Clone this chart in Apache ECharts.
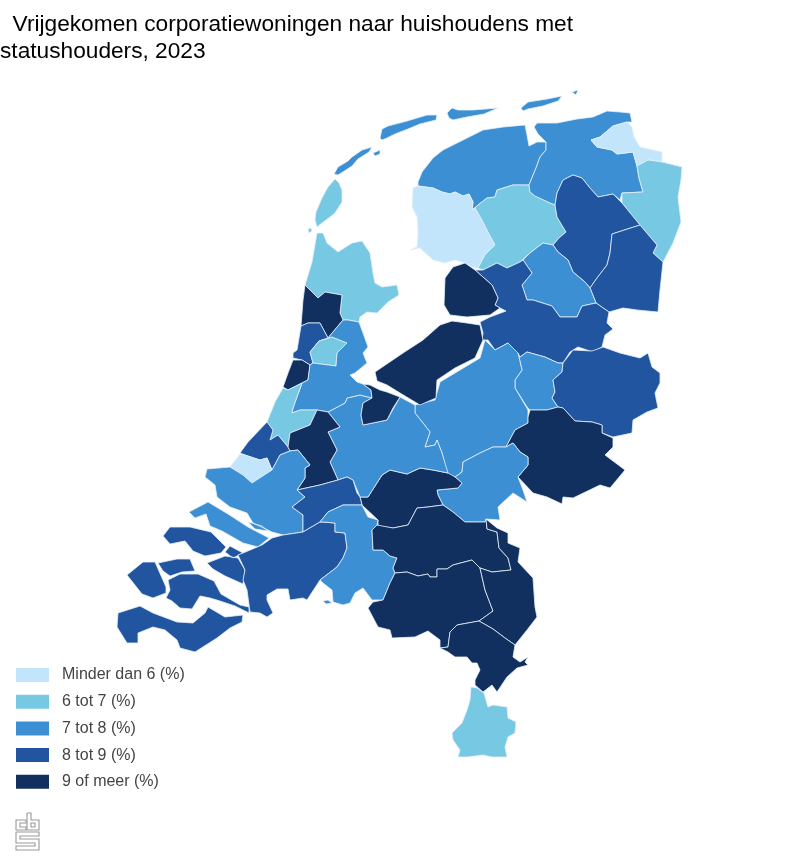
<!DOCTYPE html>
<html>
<head>
<meta charset="utf-8">
<style>html,body{margin:0;padding:0;background:#fff}#chart{width:800px;height:867px}</style>
<script src="https://cdn.jsdelivr.net/npm/echarts@6/dist/echarts.min.js"></script>
</head>
<body>
<div id="chart"></div>
<script>
var regionNames = ['Noord-Friesland', 'Zuidwest-Friesland', 'Zuidoost-Friesland', 'Overig Groningen', 'Delfzijl', 'Oost-Groningen',
    'Noord-Drenthe', 'Zuidoost-Drenthe', 'Zuidwest-Drenthe', 'Noord-Overijssel', 'Zuidwest-Overijssel', 'Twente', 'Veluwe', 'Achterhoek',
    'Arnhem/Nijmegen', 'Zuidwest-Gelderland', 'Utrecht', 'Kop van Noord-Holland', 'Alkmaar', 'IJmond', 'Haarlem', 'Zaanstreek', 'Groot-Amsterdam', 'Het Gooi',
    'Leiden', 'Den Haag', 'Delft', 'Oost-Zuid-Holland', 'Groot-Rijnmond', 'Zuidoost-Zuid-Holland', 'Zeeuwsch-Vlaanderen', 'Overig Zeeland',
    'West-Noord-Brabant', 'Midden-Noord-Brabant', 'Noordoost-Noord-Brabant', 'Zuidoost-Noord-Brabant', 'Noord-Limburg', 'Midden-Limburg', 'Zuid-Limburg', 'Flevoland'];
var regionValues = [7.5, 5.5, 6.5, 7.5, 5.5, 6.5,
    8.5, 8.5, 7.5, 8.5, 7.5, 8.5, 7.5, 9.5,
    7.5, 9.5, 7.5, 6.5, 9.5, 8.5, 9.5, 6.5, 7.5, 9.5,
    6.5, 8.5, 5.5, 9.5, 7.5, 8.5, 8.5, 8.5,
    8.5, 7.5, 9.5, 9.5, 9.5, 9.5, 6.5, 9.5];
var classLabels = ['Minder dan 6 (%)', '6 tot 7 (%)', '7 tot 8 (%)', '8 tot 9 (%)', '9 of meer (%)'];
var classColors = ['#c3e5fc', '#76c8e3', '#3d8fd3', '#2155a0', '#12305f'];

// contouren van de regio's (kaartgeometrie, in beeldpunten)
var regionOutlines = {
    'Noord-Friesland': [
        [[418,182],[422,172],[433,158],[443,150],[463,140],[483,130],[503,127],[525,125],[527,135],[529,146],[537,142],[546,142],[546,150],[540,157],[536,168],[529,185],[513,185],[497,190],[495,197],[487,198],[478,205],[472,210],[473,202],[469,194],[463,196],[455,192],[450,194],[442,192],[433,188],[418,186]],
        [[334,174],[338,167],[348,161],[352,157],[362,150],[372,147],[369,152],[358,159],[352,166],[346,170],[338,175]],
        [[373,153],[380,150],[380,154],[375,156]],
        [[380,138],[382,129],[388,126],[407,121],[427,115],[437,115],[436,120],[420,124],[408,129],[395,134],[387,138],[382,140]],
        [[447,113],[452,108],[458,110],[473,110],[498,108],[484,114],[467,117],[453,120],[449,118]],
        [[521,108],[528,102],[547,99],[562,96],[558,101],[543,106],[528,109],[523,111]]
    ],
    'Zuidwest-Friesland': [
        [[418,186],[433,188],[442,192],[450,194],[455,192],[463,196],[469,194],[473,202],[472,210],[475,208],[482,220],[488,232],[495,245],[485,255],[478,268],[472,267],[465,263],[455,260],[445,263],[433,260],[420,248],[410,250],[417,247],[418,233],[417,217],[412,207],[413,188]]
    ],
    'Zuidoost-Friesland': [
        [[529,185],[530,192],[535,196],[548,202],[555,205],[557,217],[566,232],[559,238],[553,245],[543,243],[530,253],[520,262],[507,268],[497,263],[483,270],[478,268],[485,255],[495,245],[488,232],[482,220],[475,208],[478,205],[487,198],[495,197],[497,190],[513,185]]
    ],
    'Overig Groningen': [
        [[537,123],[547,123],[557,123],[577,119],[593,117],[607,111],[620,112],[630,113],[632,122],[627,122],[613,126],[600,137],[591,140],[597,147],[612,150],[617,154],[633,152],[637,166],[639,178],[643,192],[622,193],[620,200],[613,194],[598,197],[590,188],[582,178],[573,175],[563,180],[557,193],[555,205],[548,202],[535,196],[530,192],[529,185],[536,168],[540,157],[546,150],[546,142],[538,134],[534,127]],
        [[572,92],[578,90],[576,95]]
    ],
    'Delfzijl': [
        [[627,122],[632,127],[634,137],[640,147],[662,152],[662,162],[648,160],[637,166],[633,152],[617,154],[612,150],[597,147],[591,140],[600,137],[613,126]]
    ],
    'Oost-Groningen': [
        [[637,166],[648,160],[662,162],[682,167],[681,180],[678,197],[681,222],[673,243],[663,262],[653,253],[657,245],[640,225],[622,203],[622,193],[643,192],[639,178]]
    ],
    'Noord-Drenthe': [
        [[555,205],[557,193],[563,180],[573,175],[582,178],[590,188],[598,197],[613,194],[622,203],[640,225],[612,234],[610,253],[607,265],[597,278],[590,288],[585,282],[573,272],[568,260],[558,252],[553,245],[559,238],[566,232],[557,217]]
    ],
    'Zuidoost-Drenthe': [
        [[640,225],[657,245],[653,253],[663,262],[660,290],[658,312],[637,310],[623,308],[609,312],[596,303],[590,288],[597,278],[607,265],[610,253],[612,234]]
    ],
    'Zuidwest-Drenthe': [
        [[543,243],[553,245],[558,252],[568,260],[573,272],[585,282],[590,288],[596,303],[582,306],[577,317],[560,317],[552,306],[533,300],[527,300],[522,285],[532,273],[523,260],[530,253]]
    ],
    'Noord-Overijssel': [
        [[475,270],[483,270],[497,263],[507,268],[520,262],[523,260],[532,273],[522,285],[527,300],[533,300],[552,306],[560,317],[577,317],[582,306],[596,303],[609,312],[607,323],[613,329],[605,335],[602,347],[593,352],[578,347],[570,352],[563,363],[558,363],[545,357],[527,352],[520,357],[508,343],[495,350],[488,340],[482,340],[483,333],[480,322],[490,317],[506,311],[500,308],[495,305],[498,298],[492,285]]
    ],
    'Zuidwest-Overijssel': [
        [[520,357],[527,352],[545,357],[558,363],[563,363],[562,372],[553,380],[555,392],[552,398],[558,407],[547,410],[530,410],[527,407],[515,388],[515,380],[522,370],[518,353]]
    ],
    'Twente': [
        [[563,363],[573,350],[592,351],[603,347],[620,353],[640,358],[648,353],[652,367],[660,373],[660,383],[655,393],[658,408],[647,412],[633,420],[632,433],[613,437],[602,433],[602,425],[592,422],[575,421],[563,408],[558,407],[552,398],[555,392],[553,380],[562,372]]
    ],
    'Veluwe': [
        [[415,405],[435,400],[440,382],[460,370],[480,358],[485,340],[495,350],[508,343],[518,353],[522,370],[515,380],[515,388],[528,410],[528,423],[515,430],[506,447],[493,447],[480,453],[463,462],[462,472],[455,477],[448,477],[442,453],[437,440],[435,445],[425,447],[430,432],[423,423],[415,413]]
    ],
    'Achterhoek': [
        [[530,410],[547,410],[558,407],[563,408],[575,421],[592,422],[602,425],[602,433],[613,438],[613,447],[605,455],[625,470],[610,488],[600,485],[573,498],[563,497],[562,504],[547,497],[533,493],[518,477],[528,465],[528,457],[520,452],[513,443],[506,447],[515,430],[528,423],[528,417]]
    ],
    'Arnhem/Nijmegen': [
        [[437,490],[458,488],[462,483],[455,477],[462,472],[463,462],[480,453],[493,447],[506,447],[513,443],[520,452],[528,457],[528,465],[518,477],[523,490],[527,502],[513,493],[498,507],[500,520],[486,519],[485,522],[465,522],[453,512],[443,505],[438,495]]
    ],
    'Zuidwest-Gelderland': [
        [[360,497],[368,497],[382,475],[390,470],[407,474],[420,468],[433,470],[448,473],[455,477],[462,483],[458,488],[437,490],[438,495],[443,505],[428,507],[417,508],[408,525],[393,528],[378,526],[378,520],[362,505]]
    ],
    'Utrecht': [
        [[328,412],[345,403],[347,398],[360,395],[368,397],[372,398],[363,403],[361,415],[363,425],[387,420],[400,397],[415,405],[415,413],[423,423],[430,432],[425,447],[435,445],[437,440],[442,453],[448,473],[433,470],[420,468],[407,474],[390,470],[382,475],[368,497],[360,497],[353,480],[347,477],[338,480],[330,462],[337,450],[328,432],[340,427]]
    ],
    'Kop van Noord-Holland': [
        [[317,233],[323,233],[327,243],[338,252],[352,243],[362,241],[370,253],[373,273],[375,283],[382,287],[397,285],[399,295],[388,302],[377,313],[367,312],[360,317],[359,322],[348,320],[343,320],[340,313],[342,295],[325,292],[318,298],[305,285],[312,262]],
        [[335,179],[339,183],[342,190],[342,202],[335,213],[330,217],[322,223],[317,227],[315,220],[316,212],[322,198],[328,187]],
        [[308,229],[311,228],[312,231],[309,233]]
    ],
    'Alkmaar': [
        [[305,285],[318,298],[325,292],[342,295],[340,313],[343,320],[328,338],[320,323],[308,323],[301,326],[303,300]]
    ],
    'IJmond': [
        [[301,326],[308,323],[320,323],[328,338],[319,341],[310,352],[313,363],[310,365],[302,360],[293,358],[293,353],[297,350]]
    ],
    'Haarlem': [
        [[293,360],[302,360],[310,365],[308,380],[302,383],[288,390],[283,387],[288,373]]
    ],
    'Zaanstreek': [
        [[319,341],[332,337],[347,343],[337,353],[336,366],[313,363],[310,352]]
    ],
    'Groot-Amsterdam': [
        [[343,320],[348,320],[359,322],[363,333],[368,347],[363,353],[367,363],[355,373],[350,375],[357,382],[363,384],[371,390],[372,398],[368,397],[360,395],[347,398],[345,403],[328,412],[317,410],[300,410],[292,413],[293,408],[302,383],[308,380],[310,365],[313,363],[336,366],[337,353],[347,343],[332,337],[328,338]]
    ],
    'Het Gooi': [
        [[363,384],[370,385],[380,390],[387,392],[400,397],[393,408],[387,420],[363,425],[361,415],[363,403],[372,398],[371,390]]
    ],
    'Leiden': [
        [[283,388],[288,390],[302,383],[293,408],[292,413],[300,410],[317,410],[310,425],[290,433],[288,447],[278,435],[270,440],[273,430],[267,422],[275,402]]
    ],
    'Den Haag': [
        [[267,422],[273,430],[270,440],[278,435],[288,447],[290,451],[280,455],[272,470],[267,458],[260,460],[245,455],[240,453],[248,442]]
    ],
    'Delft': [
        [[240,454],[245,455],[260,460],[267,458],[272,470],[252,483],[243,475],[230,467]]
    ],
    'Oost-Zuid-Holland': [
        [[290,433],[310,425],[317,410],[328,412],[340,427],[328,432],[337,450],[330,462],[338,480],[320,485],[297,490],[305,478],[305,468],[310,465],[298,450],[290,451],[288,447]]
    ],
    'Groot-Rijnmond': [
        [[290,451],[298,450],[310,465],[305,468],[305,478],[297,490],[305,497],[292,507],[303,515],[303,532],[283,535],[272,532],[253,523],[247,513],[230,507],[217,497],[215,485],[205,477],[207,469],[230,467],[243,475],[252,483],[272,470],[280,455]],
        [[189,512],[208,502],[228,514],[248,527],[269,538],[258,547],[243,543],[222,531],[210,526],[206,514],[195,518]],
        [[248,522],[262,526],[268,531],[255,529]]
    ],
    'Zuidoost-Zuid-Holland': [
        [[297,490],[320,485],[338,480],[347,477],[353,480],[357,493],[360,497],[362,505],[343,505],[328,512],[320,522],[303,532],[303,515],[292,507],[305,497]]
    ],
    'Zeeuwsch-Vlaanderen': [
        [[118,613],[140,606],[153,613],[177,622],[193,623],[205,613],[208,607],[225,617],[243,615],[242,622],[230,628],[217,638],[195,652],[180,648],[177,640],[165,630],[153,627],[138,633],[138,643],[127,643],[117,627]]
    ],
    'Overig Zeeland': [
        [[163,536],[170,527],[190,527],[211,532],[226,547],[221,553],[205,556],[193,551],[185,541],[170,544]],
        [[225,552],[230,546],[243,553],[233,558]],
        [[207,563],[225,556],[238,558],[245,570],[243,584],[225,576],[213,569]],
        [[158,563],[177,559],[190,559],[195,571],[182,572],[170,576],[163,571]],
        [[127,575],[143,562],[155,562],[166,587],[166,593],[153,598],[142,594]],
        [[168,580],[180,574],[198,574],[214,581],[221,594],[240,605],[249,607],[249,613],[235,606],[220,601],[210,598],[200,596],[192,609],[180,608],[172,601],[166,598],[170,590]]
    ],
    'West-Noord-Brabant': [
        [[303,532],[320,522],[323,522],[335,523],[335,532],[345,533],[347,548],[343,558],[337,567],[320,580],[307,600],[303,598],[290,600],[288,589],[277,589],[267,595],[267,600],[273,613],[267,617],[260,613],[250,612],[247,590],[243,580],[245,570],[238,555],[243,553],[262,545],[272,538],[283,535]]
    ],
    'Midden-Noord-Brabant': [
        [[320,522],[328,512],[343,505],[362,505],[368,517],[378,520],[377,525],[372,530],[373,550],[383,550],[390,556],[397,558],[393,568],[395,573],[390,583],[383,600],[372,600],[363,588],[355,593],[350,603],[343,605],[333,602],[332,590],[323,583],[320,580],[337,567],[343,558],[347,548],[345,533],[335,532],[335,523],[323,522]],
        [[323,601],[328,600],[332,603],[326,604]]
    ],
    'Noordoost-Noord-Brabant': [
        [[372,530],[377,525],[378,526],[393,528],[408,525],[417,508],[428,507],[443,505],[453,512],[465,522],[485,522],[486,519],[487,529],[497,532],[499,548],[508,558],[511,570],[492,572],[480,568],[472,560],[453,565],[447,569],[437,569],[437,577],[430,577],[428,574],[418,576],[407,572],[395,573],[393,568],[397,558],[390,556],[383,550],[373,550]]
    ],
    'Zuidoost-Noord-Brabant': [
        [[395,573],[407,572],[418,576],[428,574],[430,577],[437,577],[437,569],[447,569],[453,565],[472,560],[480,568],[485,590],[493,611],[479,621],[457,625],[450,632],[448,647],[440,648],[440,640],[428,631],[415,637],[392,638],[390,630],[378,627],[368,608],[373,602],[383,600],[390,583]]
    ],
    'Noord-Limburg': [
        [[486,519],[497,528],[508,533],[508,543],[520,548],[518,562],[533,578],[535,607],[537,617],[527,630],[515,645],[505,638],[493,629],[479,621],[493,611],[485,590],[480,568],[492,572],[511,570],[508,558],[499,548],[497,532],[487,529]]
    ],
    'Midden-Limburg': [
        [[479,621],[493,629],[505,638],[515,645],[513,657],[520,662],[528,657],[525,662],[528,665],[517,668],[507,677],[497,692],[492,685],[483,692],[475,685],[475,680],[480,670],[477,663],[472,663],[467,657],[455,657],[448,652],[440,648],[448,647],[450,632],[457,625]]
    ],
    'Zuid-Limburg': [
        [[471,687],[477,688],[484,693],[488,707],[493,705],[507,707],[508,718],[516,722],[515,733],[508,737],[505,747],[507,757],[492,757],[483,755],[467,757],[458,757],[460,750],[453,740],[452,733],[462,723],[467,710],[470,700]]
    ],
    'Flevoland': [
        [[445,278],[453,267],[465,263],[475,270],[492,285],[498,298],[495,305],[500,308],[490,315],[467,317],[450,315],[444,305]],
        [[452,321],[467,323],[480,325],[483,340],[475,358],[455,368],[437,380],[436,398],[420,405],[400,393],[387,385],[377,381],[375,372],[403,353],[423,340],[440,325]]
    ]
};

var features = regionNames.map(function (name) {
    return {
        type: 'Feature',
        properties: { name: name },
        geometry: {
            type: 'MultiPolygon',
            coordinates: regionOutlines[name].map(function (ring) {
                return [ring.map(function (p) { return [p[0], -p[1]]; })];
            })
        }
    };
});
echarts.registerMap('nl', { type: 'FeatureCollection', features: features });

var seriesData = regionNames.map(function (name, i) {
    return { name: name, value: regionValues[i] };
});

var myChart = echarts.init(document.getElementById('chart'), null, { renderer: 'canvas' });
var fontName = '"Liberation Sans", Arial, sans-serif';
var logoStyle = { fill: 'none', stroke: '#999', lineWidth: 1.1 };
myChart.setOption({
    animation: false,
    backgroundColor: '#fff',
    title: {
        text: '  Vrijgekomen corporatiewoningen naar huishoudens met\nstatushouders, 2023',
        left: 0,
        top: 11,
        padding: 0,
        textStyle: { fontFamily: fontName, fontSize: 22.7, fontWeight: 'normal', color: '#000', lineHeight: 27 }
    },
    visualMap: {
        type: 'piecewise',
        left: 16,
        top: 667,
        padding: 0,
        orient: 'vertical',
        inverse: true,
        itemWidth: 33,
        itemHeight: 14,
        itemGap: 10.7,
        itemSymbol: 'rect',
        textGap: 13,
        selectedMode: false,
        textStyle: { fontFamily: fontName, fontSize: 16, color: '#444' },
        pieces: [
            { max: 6, label: classLabels[0], color: classColors[0] },
            { min: 6, max: 7, label: classLabels[1], color: classColors[1] },
            { min: 7, max: 8, label: classLabels[2], color: classColors[2] },
            { min: 8, max: 9, label: classLabels[3], color: classColors[3] },
            { min: 9, label: classLabels[4], color: classColors[4] }
        ]
    },
    series: [{
        type: 'map',
        map: 'nl',
        silent: true,
        left: 0,
        top: 0,
        width: 800,
        height: 867,
        aspectScale: 1,
        boundingCoords: [[0, 0], [800, -867]],
        label: { show: false },
        itemStyle: { borderColor: '#e4f0fa', borderWidth: 0.8 },
        data: seriesData
    }],
    graphic: [{
        // cbs-logo
        type: 'group',
        silent: true,
        children: [
            { type: 'polyline', shape: { points: [[26,820],[16,820],[16,830],[26,830],[26,827],[20,827],[20,823],[26,823],[26,820]] }, style: logoStyle },
            { type: 'polyline', shape: { points: [[27,813],[31,813],[31,820],[39,820],[39,830],[27,830],[27,813]] }, style: logoStyle },
            { type: 'rect', shape: { x: 31, y: 823, width: 4, height: 4 }, style: logoStyle },
            { type: 'polyline', shape: { points: [[16,832],[39,832],[39,836],[20,836],[20,839],[39,839],[39,850],[16,850],[16,846],[35,846],[35,843],[16,843],[16,832]] }, style: logoStyle }
        ]
    }]
});
</script>
</body>
</html>
